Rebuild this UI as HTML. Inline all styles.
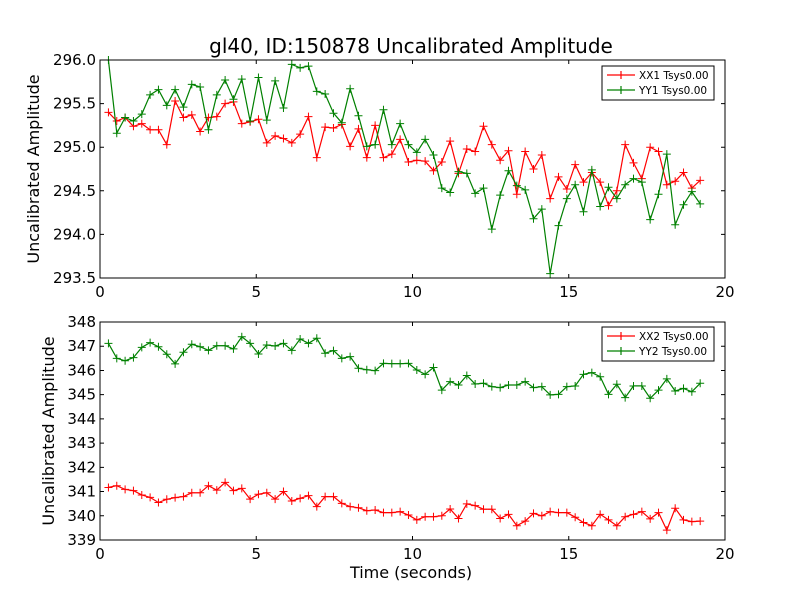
<!DOCTYPE html>
<html><head><meta charset="utf-8"><style>
body{margin:0;background:#fff}
svg text{font-family:"DejaVu Sans","Liberation Sans",sans-serif}
</style></head><body>
<svg id="chart" width="800" height="600" xmlns="http://www.w3.org/2000/svg">
<rect width="800" height="600" fill="#fff"/>
<text x="411" y="53" font-size="20" text-anchor="middle">gl40, ID:150878 Uncalibrated Amplitude</text>
<text transform="translate(39,169) rotate(-90)" font-size="16" text-anchor="middle">Uncalibrated Amplitude</text>
<text transform="translate(54,431) rotate(-90)" font-size="16" text-anchor="middle">Uncalibrated Amplitude</text>
<text x="411" y="578" font-size="16" text-anchor="middle">Time (seconds)</text>
<g id="top"></g>
<g id="bot"></g>
</svg>
<script>
const xx1 = [295.40,295.30,295.34,295.24,295.27,295.20,295.20,295.03,295.53,295.34,295.37,295.18,295.34,295.35,295.50,295.52,295.27,295.29,295.32,295.05,295.13,295.10,295.05,295.15,295.35,294.88,295.23,295.22,295.26,295.01,295.21,294.88,295.25,294.88,294.92,295.09,294.83,294.85,
294.84,294.73,294.83,295.07,294.70,294.98,294.95,295.24,295.03,294.85,294.96,294.46,294.95,294.75,294.91,294.41,294.66,294.52,294.80,294.60,294.71,294.60,294.33,294.50,295.03,294.82,294.64,295.00,294.95,294.57,294.61,294.71,294.53,294.62];
const yy1 = [296.00,295.16,295.34,295.30,295.38,295.60,295.66,295.48,295.66,295.46,295.72,295.69,295.20,295.60,295.77,295.55,295.78,295.30,295.80,295.31,295.76,295.45,295.95,295.91,295.93,295.64,295.61,295.39,295.28,295.67,295.36,295.01,295.03,295.43,295.03,295.27,295.03,294.94,
295.09,294.91,294.53,294.48,294.72,294.70,294.47,294.53,294.06,294.45,294.73,294.56,294.51,294.18,294.29,293.55,294.10,294.41,294.57,294.26,294.74,294.32,294.54,294.41,294.57,294.64,294.60,294.17,294.46,294.92,294.11,294.34,294.49,294.35];
const xx2 = [341.17,341.24,341.09,341.04,340.86,340.76,340.55,340.68,340.75,340.79,340.95,340.95,341.24,341.06,341.38,341.04,341.13,340.69,340.89,340.95,340.69,341.00,340.61,340.72,340.83,340.38,340.79,340.79,340.51,340.38,340.33,340.21,340.24,340.13,340.13,340.17,340.03,339.83,
339.96,339.96,340.00,340.28,339.89,340.49,340.42,340.27,340.27,339.89,340.06,339.59,339.78,340.10,340.00,340.17,340.13,340.13,339.94,339.72,339.59,340.06,339.83,339.59,339.96,340.06,340.17,339.87,340.13,339.41,340.31,339.83,339.76,339.78];
const yy2 = [347.12,346.50,346.40,346.53,346.95,347.15,346.98,346.67,346.27,346.75,347.08,346.98,346.83,347.02,347.02,346.89,347.39,347.12,346.68,347.05,347.01,347.12,346.83,347.30,347.12,347.33,346.71,346.82,346.50,346.57,346.09,346.03,345.99,346.29,346.28,346.28,346.29,346.02,
345.84,346.12,345.19,345.54,345.40,345.79,345.44,345.47,345.33,345.29,345.40,345.40,345.54,345.29,345.33,344.99,345.01,345.33,345.36,345.84,345.91,345.74,345.01,345.43,344.88,345.36,345.36,344.85,345.19,345.65,345.15,345.26,345.12,345.47];
const times = xx1.map((_, i) => 0.27 + i * 0.2667);
const xTicks = [0, 5, 10, 15, 20];
const topYTicks = [293.5, 294.0, 294.5, 295.0, 295.5, 296.0];
const botYTicks = [339, 340, 341, 342, 343, 344, 345, 346, 347, 348];

const NS = 'http://www.w3.org/2000/svg';
function mk(parent, tag, attrs, text) {
  const e = document.createElementNS(NS, tag);
  for (const k in attrs) e.setAttribute(k, attrs[k]);
  if (text !== undefined) e.textContent = text;
  parent.appendChild(e);
  return e;
}
function panel(g, top, bottom, ymin, ymax, yTicks, yFmt, series, legendY) {
  const L = 100, R = 725;
  const xs = v => L + (v - 0) / 20 * (R - L);
  const ys = v => bottom - (v - ymin) / (ymax - ymin) * (bottom - top);
  series.forEach(s => {
    const pts = times.map((t, i) => xs(t).toFixed(1) + ',' + ys(s.data[i]).toFixed(1)).join(' ');
    const pl = mk(g, 'polyline', {points: pts, fill: 'none', stroke: s.color, 'stroke-width': 1.2});
    
    
    let d = '';
    times.forEach((t, i) => { const x = xs(t), y = ys(s.data[i]); d += `M${x-4},${y}H${x+4}M${x},${y-4}V${y+4}`; });
    const mp = mk(g, 'path', {d: d, stroke: s.color, 'stroke-width': 1});
    
    
  });
  const fr = mk(g, 'rect', {x: L, y: top, width: R - L, height: bottom - top, fill: 'none', stroke: '#000', 'stroke-width': 1});
  
  
  xTicks.forEach(v => {
    const x = xs(v);
    mk(g, 'path', {d: `M${x},${bottom}v-4M${x},${top}v4`, stroke: '#000'});
    const t = mk(g, 'text', {x: x, y: bottom + 19, 'font-size': 15, 'text-anchor': 'middle'}, String(v));
    
    
  });
  yTicks.forEach(v => {
    const y = ys(v);
    mk(g, 'path', {d: `M${L},${y}h4M${R},${y}h-4`, stroke: '#000'});
    const t = mk(g, 'text', {x: L - 4, y: y + 5, 'font-size': 15, 'text-anchor': 'end'}, yFmt(v));
    
    
  });
  const lg = mk(g, 'g', {});
  
  
  mk(lg, 'rect', {x: 602, y: legendY, width: 112, height: 34, fill: '#fff', stroke: '#000', 'stroke-width': 1});
  series.forEach((s, i) => {
    const y = legendY + 9 + i * 15;
    mk(lg, 'path', {d: `M607,${y}h28M621,${y-4}v8`, stroke: s.color, 'stroke-width': 1.2});
    const t = mk(lg, 'text', {x: 639, y: y + 4, 'font-size': 10.5}, s.label);
    
    
  });
}
panel(document.getElementById('top'), 60, 278, 293.5, 296.0, topYTicks, v => v.toFixed(1),
  [{data: xx1, color: '#ff0000', name: 'xx1', label: 'XX1 Tsys0.00'}, {data: yy1, color: '#008000', name: 'yy1', label: 'YY1 Tsys0.00'}], 66);
panel(document.getElementById('bot'), 322, 540, 339, 348, botYTicks, v => String(v),
  [{data: xx2, color: '#ff0000', name: 'xx2', label: 'XX2 Tsys0.00'}, {data: yy2, color: '#008000', name: 'yy2', label: 'YY2 Tsys0.00'}], 327);
</script>
</body></html>
